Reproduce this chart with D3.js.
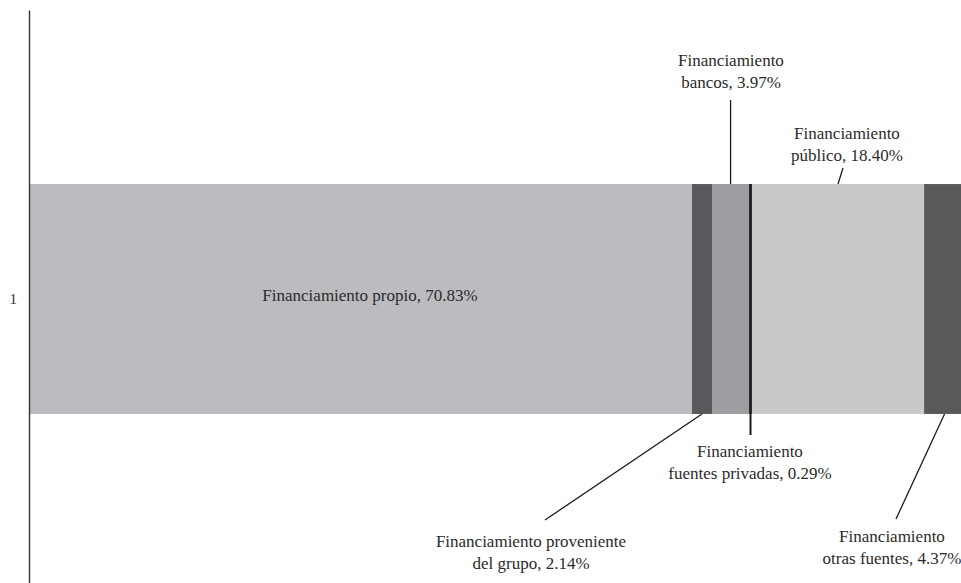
<!DOCTYPE html>
<html><head><meta charset="utf-8">
<script src="https://cdn.jsdelivr.net/npm/d3@7"></script>
<style>body{margin:0;background:#fff}svg{display:block}</style>
</head><body>
<script>
const categories = ["1"];
const seriesNames = ["Financiamiento propio","Financiamiento proveniente del grupo","Financiamiento bancos","Financiamiento fuentes privadas","Financiamiento público","Financiamiento otras fuentes"];
const seriesValues = [70.83, 2.14, 3.97, 0.29, 18.40, 4.37];
const seriesColors = ["#bcbcc0","#59595b","#9e9ea2","#1b1b1b","#c9c9cb","#59595b"];
const labelLines = [
  ["Financiamiento propio, 70.83%"],
  ["Financiamiento proveniente","del grupo, 2.14%"],
  ["Financiamiento","bancos, 3.97%"],
  ["Financiamiento","fuentes privadas, 0.29%"],
  ["Financiamiento","público, 18.40%"],
  ["Financiamiento","otras fuentes, 4.37%"]
];

const W = 961, H = 583;
const svg = d3.select("body").append("svg").attr("width", W).attr("height", H);
const x = d3.scaleLinear().domain([0, 100]).range([29, 965]);
const y = d3.scaleBand().domain(categories).range([10, 588]).paddingInner(0).paddingOuter(0.757);

let acc = 0;
const segs = seriesValues.map((v, i) => { const s = {i, x0: acc, x1: acc + v, v}; acc += v; return s; });

const g = svg.append("g");
g.selectAll("rect").data(segs).enter().append("rect")
  .attr("x", d => x(d.x0)).attr("width", d => x(d.x1) - x(d.x0))
  .attr("y", y("1")).attr("height", y.bandwidth())
  .attr("fill", d => seriesColors[d.i]);

const font = "Liberation Serif, serif";
const yAxis = d3.axisLeft(y).tickSize(0).tickPadding(12);
const ag = svg.append("g").attr("transform", "translate(29,0)").call(yAxis);
ag.select(".domain").attr("stroke", "#333").attr("stroke-width", 1.4);
ag.selectAll("text").attr("font-family", font).attr("font-size", 15).attr("fill", "#333");

const barTop = y("1"), barBot = y("1") + y.bandwidth();
const mid = d => x((d.x0 + d.x1) / 2);
// annotation placement: leader start side, leader end, text center, first baseline
const ann = [
  {tx: 370, ty: 301},
  {sy: barBot, ex: 545, ey: 520, tx: 531, ty: 547},
  {sy: barTop, ex: null, ey: 100, tx: 731, ty: 66},
  {sy: barTop, ex: null, ey: 435, tx: 750, ty: 457},
  {sy: barTop, ex: 843, ey: 168, tx: 847, ty: 139},
  {sy: barBot, ex: 896, ey: 519, tx: 892, ty: 542}
];
segs.forEach(d => {
  const a = ann[d.i];
  if (a.sy != null) {
    const sx = mid(d);
    svg.append("line").attr("x1", sx).attr("y1", a.sy).attr("x2", a.ex == null ? sx : a.ex).attr("y2", a.ey)
      .attr("stroke", "#1b1b1b").attr("stroke-width", d.i === 3 ? 2 : 1.3);
  }
  const t = svg.append("text").attr("text-anchor", "middle").attr("font-family", font).attr("font-size", 17).attr("fill", "#2b2b2b");
  labelLines[d.i].forEach((ln, k) => {
    t.append("tspan").attr("x", a.tx).attr("y", a.ty + k * 22).text(ln);
  });
});
</script>
</body></html>
